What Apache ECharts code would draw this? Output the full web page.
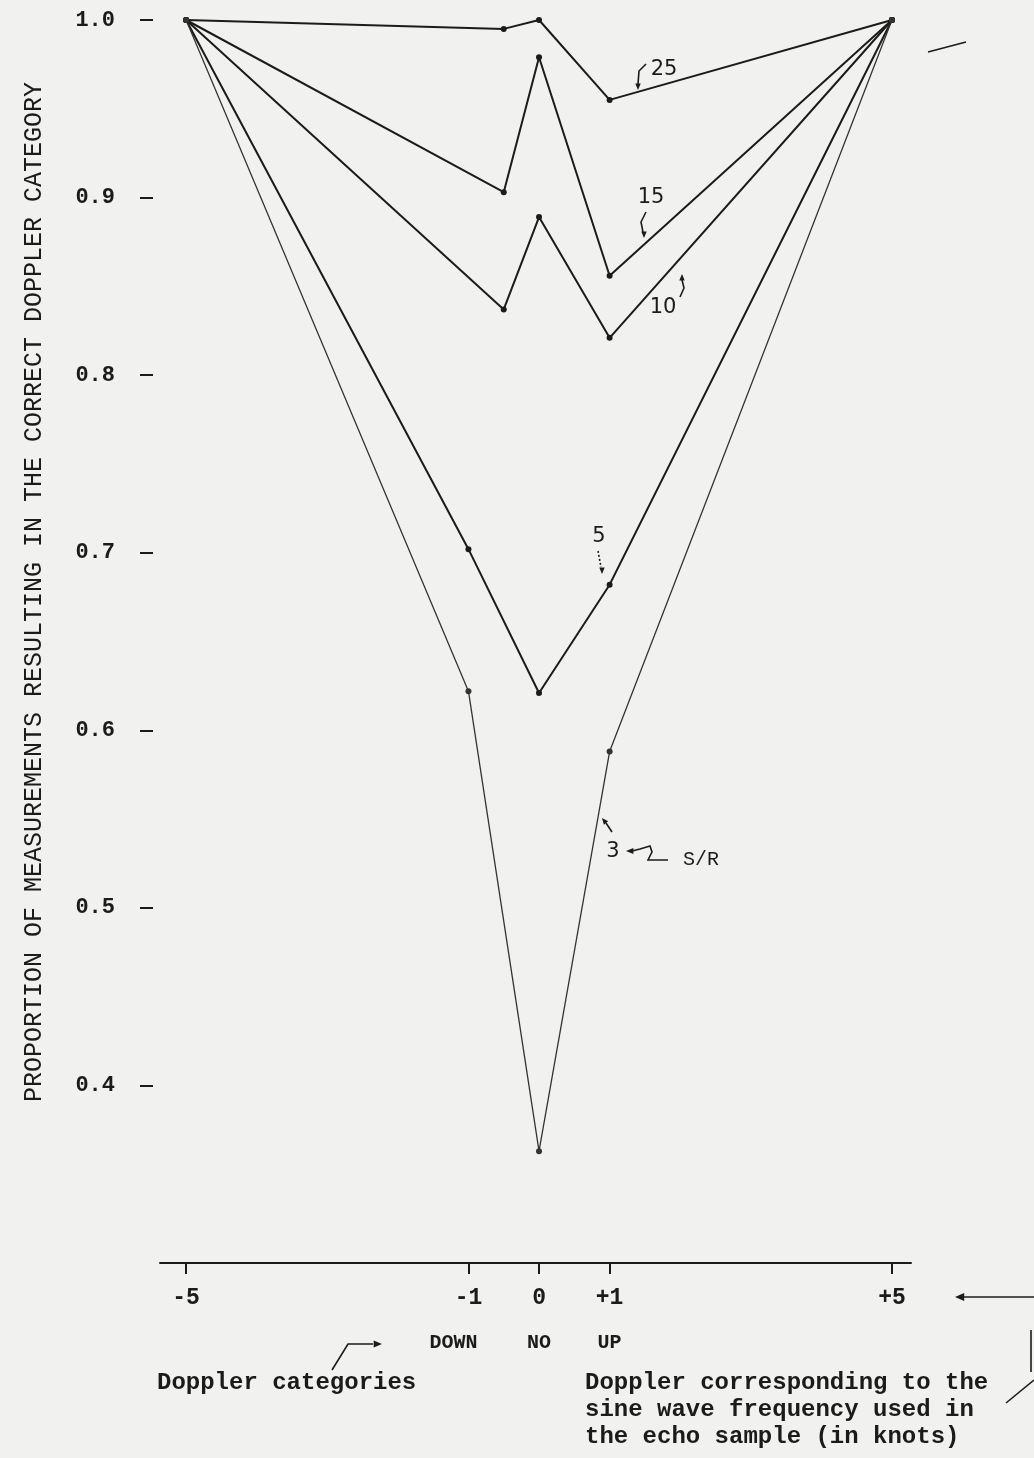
<!DOCTYPE html>
<html>
<head>
<meta charset="utf-8">
<script src="https://cdn.jsdelivr.net/npm/echarts@6/dist/echarts.min.js"></script>
<style>
html, body { margin: 0; padding: 0; background: #f1f1ef; }
#main { width: 1034px; height: 1458px; }
</style>
</head>
<body>
<div id="main"></div>
<script>
// doppler positions of the points (knots)
var xNear = [-5, -0.5, 0, 1, 5];
var xWide = [-5, -1, 0, 1, 5];
// proportion correct, one array per S/R
var sr25 = [1.0, 0.995, 1.0, 0.955, 1.0];
var sr15 = [1.0, 0.903, 0.979, 0.856, 1.0];
var sr10 = [1.0, 0.837, 0.889, 0.821, 1.0];
var sr5 = [1.0, 0.702, 0.621, 0.682, 1.0];
var sr3 = [1.0, 0.622, 0.363, 0.588, 1.0];
// axis ticks
var xTicks = [-5, -1, 0, 1, 5];
var xTickText = ['-5', '-1', '0', '+1', '+5'];
var xCatText = ['', 'DOWN', 'NO', 'UP', ''];
var yTicks = [0.4, 0.5, 0.6, 0.7, 0.8, 0.9, 1.0];

var typeFont = '"Liberation Mono", "DejaVu Sans Mono", monospace';
var handFont = '"DejaVu Sans", sans-serif';
var ink = '#1b1b1b';

function zip(xs, ys) {
	var out = [];
	for (var i = 0; i < xs.length; i++) out.push([xs[i], ys[i]]);
	return out;
}

function lineSeries(name, xs, ys, width, color) {
	return {
		name: name,
		type: 'line',
		data: zip(xs, ys),
		symbol: 'circle',
		symbolSize: 6,
		lineStyle: { color: color, width: width },
		itemStyle: { color: color },
		emphasis: { disabled: true },
		silent: true
	};
}

// small helpers for the hand drawn annotations
function stroke(pts, dashed) {
	return {
		type: 'polyline',
		shape: { points: pts },
		style: { stroke: ink, lineWidth: 1.6, fill: null, lineDash: dashed ? [2, 2] : null }
	};
}
function head(x, y, ang, size) {
	size = size || 8;
	return {
		type: 'polygon',
		shape: {
			points: [
				[x, y],
				[x - size * Math.cos(ang - 0.4), y - size * Math.sin(ang - 0.4)],
				[x - size * Math.cos(ang + 0.4), y - size * Math.sin(ang + 0.4)]
			]
		},
		style: { fill: ink }
	};
}
function label(txt, x, y, font, align) {
	return {
		type: 'text',
		x: x,
		y: y,
		style: {
			text: txt,
			font: font,
			fill: ink,
			textAlign: align || 'center',
			textVerticalAlign: 'middle'
		}
	};
}

var chart = echarts.init(document.getElementById('main'));

var option = {
	backgroundColor: '#f1f1ef',
	animation: false,
	grid: { left: 160, right: 123, top: 20, bottom: 195 },
	xAxis: {
		type: 'value',
		min: -5.37,
		max: 5.27,
		splitLine: { show: false },
		axisLine: { show: true, onZero: false, lineStyle: { color: ink, width: 2 } },
		axisTick: { show: true, inside: false, length: 11, customValues: xTicks, lineStyle: { color: ink, width: 2 } },
		axisLabel: {
			customValues: xTicks,
			margin: 23,
			formatter: function(v) {
				var i = xTicks.indexOf(v);
				if (i < 0) return '';
				var s = '{n|' + xTickText[i] + '}';
				if (xCatText[i]) s += '\n{' + (i == 1 ? 'd' : 'c') + '|' + xCatText[i] + '}';
				return s;
			},
			rich: {
				n: { fontFamily: typeFont, fontSize: 23, fontWeight: 'bold', color: ink, lineHeight: 24 },
				c: { fontFamily: typeFont, fontSize: 20, fontWeight: 'bold', color: ink, lineHeight: 66 },
				d: { fontFamily: typeFont, fontSize: 20, fontWeight: 'bold', color: ink, lineHeight: 66, padding: [0, 30, 0, 0] }
			}
		}
	},
	yAxis: {
		type: 'value',
		min: 0.3,
		max: 1.0,
		interval: 0.1,
		offset: 7,
		splitLine: { show: false },
		axisLine: { show: false, onZero: false },
		axisTick: { show: true, length: 13, customValues: yTicks, lineStyle: { color: ink, width: 2 } },
		axisLabel: {
			customValues: yTicks,
			margin: 38,
			color: ink,
			fontFamily: typeFont,
			fontSize: 22,
			fontWeight: 'bold',
			formatter: function(v) { return v.toFixed(1); }
		}
	},
	series: [
		lineSeries('25', xNear, sr25, 2, ink),
		lineSeries('15', xNear, sr15, 2, ink),
		lineSeries('10', xNear, sr10, 2, ink),
		lineSeries('5', xWide, sr5, 2, ink),
		lineSeries('3', xWide, sr3, 1.3, '#333')
	],
	graphic: [
		// y axis title
		{
			type: 'text',
			x: 34,
			y: 592,
			rotation: Math.PI / 2,
			style: {
				text: 'PROPORTION OF MEASUREMENTS RESULTING IN THE CORRECT DOPPLER CATEGORY',
				font: '25px ' + typeFont,
				fill: ink,
				textAlign: 'center',
				textVerticalAlign: 'middle'
			}
		},
		// S/R labels on the curves
		label('25', 664, 70, '21px ' + handFont),
		stroke([[646, 64], [639, 71], [638, 84]]),
		head(638, 90, Math.PI / 2, 7),
		label('15', 651, 198, '21px ' + handFont),
		stroke([[646, 212], [641, 222], [643, 232]]),
		head(644, 238, Math.PI / 2, 7),
		label('10', 663, 308, '21px ' + handFont),
		stroke([[680, 297], [684, 288], [682, 280]]),
		head(682, 274, -Math.PI / 2, 7),
		label('5', 599, 537, '21px ' + handFont),
		stroke([[598, 551], [601, 567]], true),
		head(602, 574, Math.PI / 2, 7),
		label('3', 613, 852, '21px ' + handFont),
		stroke([[612, 832], [606, 823]]),
		head(602, 818, Math.atan2(-5, -4), 7),
		stroke([[668, 860], [648, 860], [652, 852], [650, 846], [640, 849], [632, 851]]),
		head(626, 851, Math.PI, 8),
		label('S/R', 701, 860, '20px ' + typeFont),
		// notes under the axis
		label('Doppler categories', 157, 1383, 'bold 24px ' + typeFont, 'left'),
		stroke([[332, 1370], [348, 1344], [373, 1344]]),
		head(382, 1344, 0, 9),
		label('Doppler corresponding to the', 585, 1383, 'bold 24px ' + typeFont, 'left'),
		label('sine wave frequency used in', 585, 1410, 'bold 24px ' + typeFont, 'left'),
		label('the echo sample (in knots)', 585, 1437, 'bold 24px ' + typeFont, 'left'),
		stroke([[1034, 1297], [964, 1297]]),
		head(955, 1297, Math.PI, 10),
		stroke([[1006, 1403], [1034, 1380]]),
		stroke([[1031, 1330], [1031, 1372]]),
		stroke([[928, 52], [966, 42]])
	]
};

chart.setOption(option);
</script>
</body>
</html>
